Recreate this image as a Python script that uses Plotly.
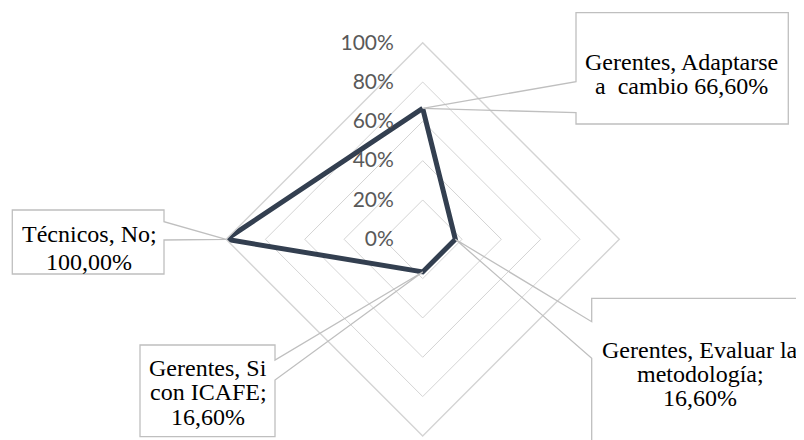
import math
import plotly.graph_objects as go

# ---------------- data ----------------
categories = ["Adaptarse a cambio", "Evaluar la metodología", "Si con ICAFE", "No"]
groups = ["Gerentes", "Gerentes", "Gerentes", "Técnicos"]
values = [0.666, 0.166, 0.166, 1.0]
tick_vals = [0, 0.2, 0.4, 0.6, 0.8, 1.0]
tick_text = ["0%", "20%", "40%", "60%", "80%", "100%"]
label_lines = [
    ["Gerentes, Adaptarse", "a\u00a0 cambio 66,60%"],
    ["Gerentes, Evaluar la", "metodología;", "16,60%"],
    ["Gerentes, Si", "con ICAFE;", "16,60%"],
    ["Técnicos, No;", "100,00%"],
]

# ---------------- layout constants (page pixels) ----------------
OFF = 8                      # default page body margin
W, H = 804 - OFF, 440 - OFF  # figure size so that it fits the window
CX, CY, RAD = 422.7 - OFF, 239.3 - OFF, 196.6

def u(px):
    return (px - OFF - CX) / RAD

def v(py):
    return (CY - (py - OFF)) / RAD

# callout boxes (page pixels): (L, T, R, B), opening side, opening y-range, text centre x, line centre ys
callouts = [
    dict(box=(576, 12.7, 788.3, 124), side="left", gap=(81.7, 112.7), tx=681.5, ty=[62, 86]),
    dict(box=(591.7, 298.3, 812, 452), side="left", gap=(321.7, 358.3), tx=700, ty=[349.5, 373.5, 397.5]),
    dict(box=(140, 345, 275, 436.7), side="right", gap=(360, 380), tx=208, ty=[367.5, 392, 416.5]),
    dict(box=(12.3, 210, 164, 274), side="right", gap=(221.7, 240), tx=89, ty=[233.5, 261.5]),
]

LINE_COL = "#333f50"
GRID_COL = "#d4d4d4"
CALLOUT_COL = "#bfbfbf"

fig = go.Figure()

fig.add_trace(go.Scatterpolar(
    r=values + [values[0]],
    theta=categories + [categories[0]],
    mode="lines",
    line=dict(color=LINE_COL, width=5),
    hoverinfo="skip",
    showlegend=False,
))

# invisible cartesian overlay so decorations can be placed in polar units
fig.add_trace(go.Scatter(x=[], y=[], xaxis="x", yaxis="y", showlegend=False, hoverinfo="skip"))

shapes = []
annotations = []
n = len(categories)
for i, (val, c) in enumerate(zip(values, callouts)):
    ang = math.radians(360.0 * i / n)
    ax_, ay_ = val * math.sin(ang), val * math.cos(ang)
    L, T, R, B = c["box"]
    y1, y2 = c["gap"]
    if c["side"] == "left":
        pts = [(L, y1), (L, T), (R, T), (R, B), (L, B), (L, y2)]
    else:
        pts = [(R, y1), (R, T), (L, T), (L, B), (R, B), (R, y2)]
    path = f"M {ax_:.5f},{ay_:.5f} " + " ".join(f"L {u(px):.5f},{v(py):.5f}" for px, py in pts) + " Z"
    shapes.append(dict(type="path", path=path, xref="x", yref="y",
                       line=dict(color=CALLOUT_COL, width=1.3), fillcolor="rgba(0,0,0,0)", layer="above"))
    for txt, ty in zip(label_lines[i], c["ty"]):
        annotations.append(dict(text=txt, x=u(c["tx"]), y=v(ty), xref="x", yref="y",
                                showarrow=False, xanchor="center", yanchor="middle",
                                font=dict(family="Liberation Serif", size=24, color="#000000")))

fig.update_layout(
    width=W, height=H,
    margin=dict(l=0, r=0, t=0, b=0),
    paper_bgcolor="white",
    plot_bgcolor="rgba(0,0,0,0)",
    showlegend=False,
    polar=dict(
        domain=dict(x=[(CX - RAD) / W, (CX + RAD) / W], y=[(H - (CY + RAD)) / H, (H - (CY - RAD)) / H]),
        bgcolor="white",
        gridshape="linear",
        angularaxis=dict(
            type="category",
            categoryorder="array",
            categoryarray=categories,
            rotation=90,
            direction="clockwise",
            showgrid=False,
            showticklabels=False,
            ticks="",
            showline=True,
            linecolor=GRID_COL,
            linewidth=1.4,
        ),
        radialaxis=dict(
            range=[0, 1],
            angle=90,
            side="counterclockwise",
            tickvals=tick_vals,
            ticktext=tick_text,
            showline=False,
            showgrid=True,
            gridcolor=GRID_COL,
            gridwidth=1.4,
            ticks="outside",
            ticklen=21,
            tickcolor="rgba(0,0,0,0)",
            tickfont=dict(family="Lato", size=21, color="#595959"),
            tickangle=90,
        ),
    ),
    xaxis=dict(domain=[0, 1], range=[u(OFF), u(OFF + W)], visible=False, fixedrange=True),
    yaxis=dict(domain=[0, 1], range=[v(OFF + H), v(OFF)], visible=False, fixedrange=True),
    shapes=shapes,
    annotations=annotations,
)

fig.write_html("out.html")
